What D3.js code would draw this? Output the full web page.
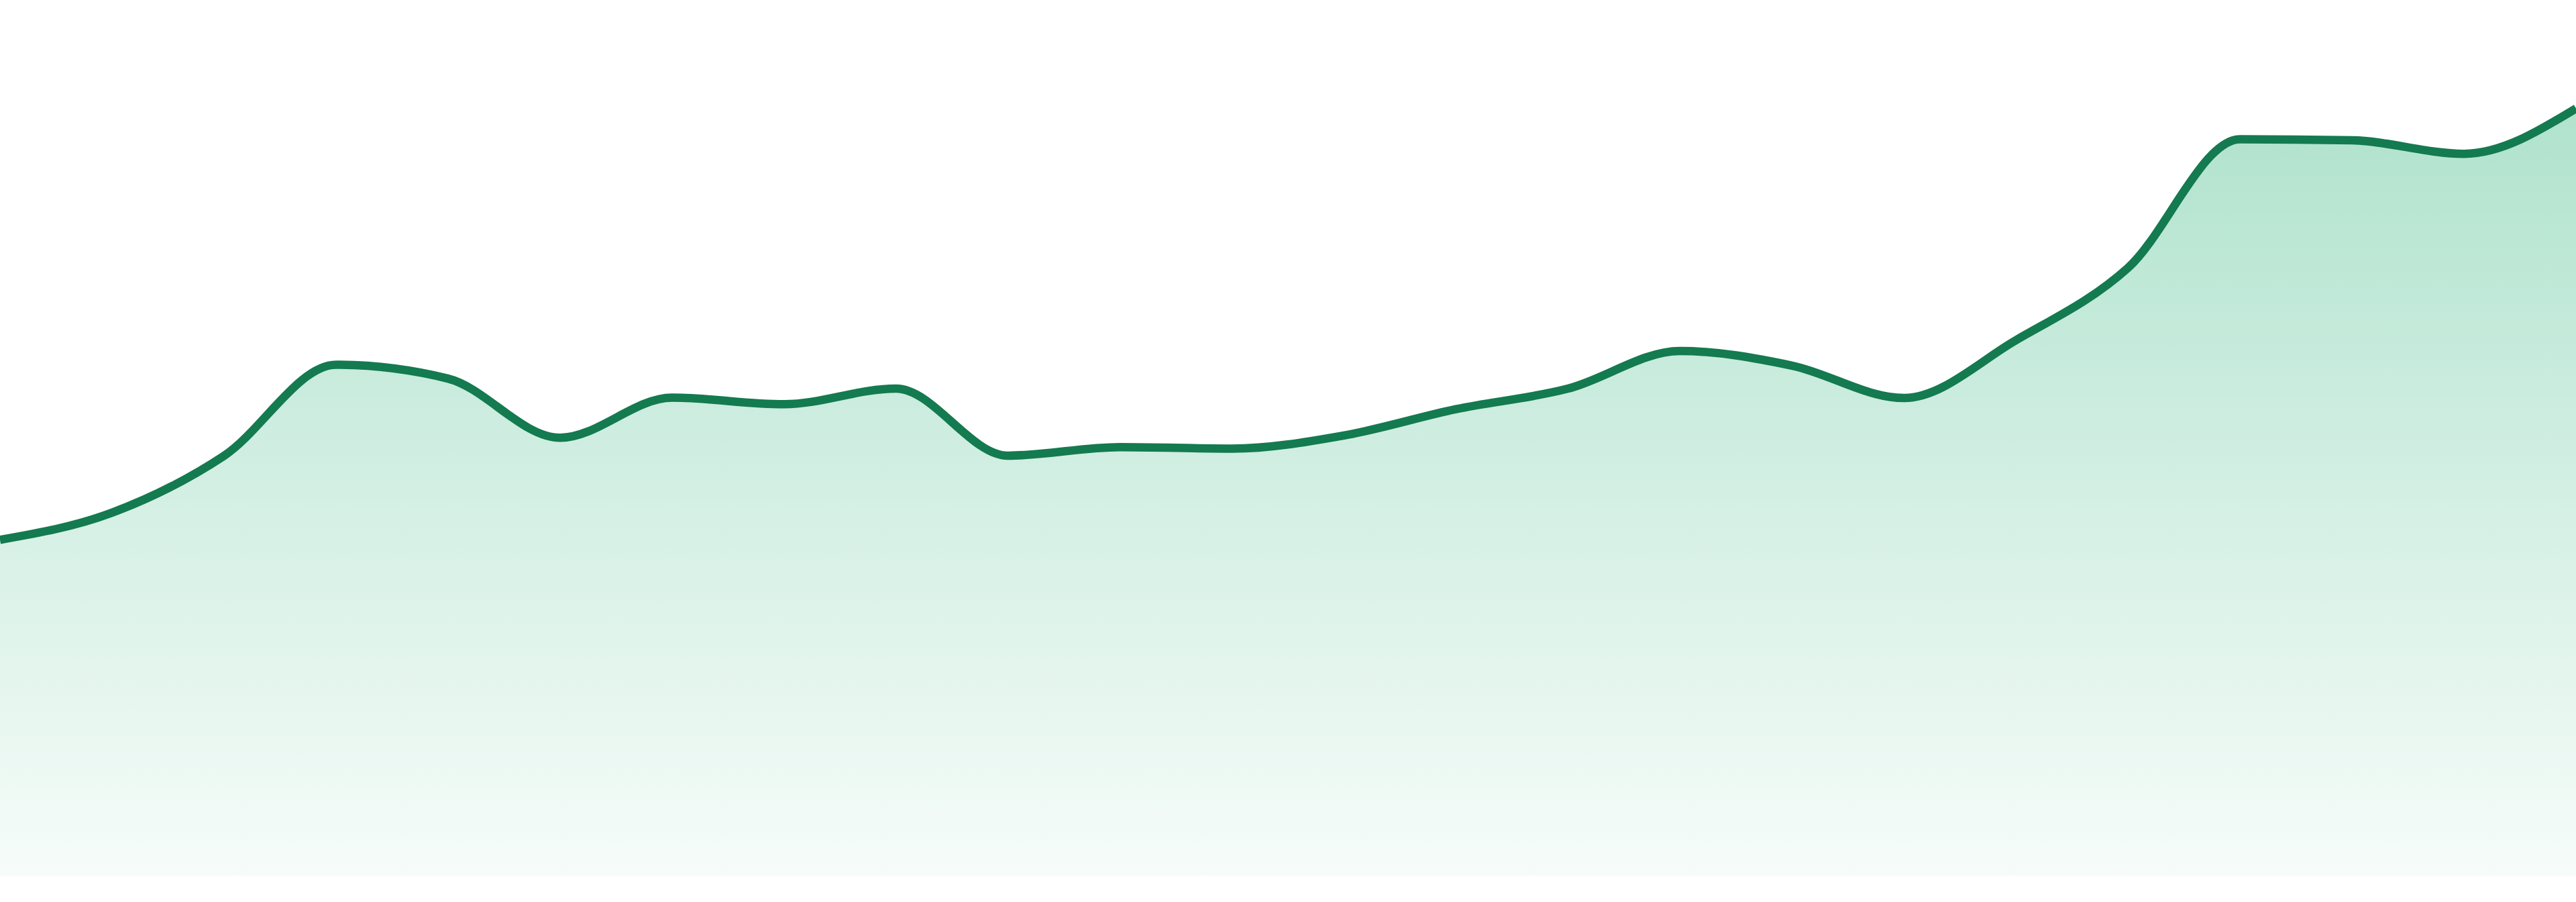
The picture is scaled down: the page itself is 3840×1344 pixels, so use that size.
<!DOCTYPE html>
<html>
<head>
<meta charset="utf-8">
<script src="https://cdn.jsdelivr.net/npm/d3@7"></script>
<style>
  html, body { margin: 0; padding: 0; background: #ffffff; }
  svg { display: block; }
</style>
</head>
<body>
<svg id="chart"></svg>
<script>
// one value per step along the x axis
var steps = d3.range(24);
var values = [20.45, 22.1, 25.56, 31.1, 30.26, 26.66, 29.1, 28.7, 29.65, 25.57, 26.09, 26.0,
              26.8, 28.4, 29.65, 31.94, 31.05, 29.08, 32.6, 37.0, 44.83, 44.76, 43.94, 46.7];

var width = 3840,
    height = 1344,
    baseline = 1305;

var svg = d3.select("#chart")
    .attr("width", width)
    .attr("height", height);

var x = d3.scaleLinear()
    .domain([0, steps.length - 1])
    .range([0, width]);

var y = d3.scaleLinear()
    .domain([0, 53.3])
    .range([baseline, 0]);

var data = steps.map(function(s, i) {
    return { step: s, value: values[i] };
});

//------------------------------------------------------------------------------
// soft green fill fading out towards the bottom
//------------------------------------------------------------------------------
var grad = svg.append("defs").append("linearGradient")
    .attr("id", "area_fill")
    .attr("gradientUnits", "userSpaceOnUse")
    .attr("x1", 0).attr("x2", 0)
    .attr("y1", y(d3.max(values)))
    .attr("y2", baseline);

grad.append("stop")
    .attr("offset", "0%")
    .attr("stop-color", "#29b279")
    .attr("stop-opacity", 0.37);

grad.append("stop")
    .attr("offset", "100%")
    .attr("stop-color", "#29b279")
    .attr("stop-opacity", 0.04);

var area = d3.area()
    .x(function(d) { return x(d.step); })
    .y0(baseline)
    .y1(function(d) { return y(d.value); })
    .curve(d3.curveMonotoneX);

var line = d3.line()
    .x(function(d) { return x(d.step); })
    .y(function(d) { return y(d.value); })
    .curve(d3.curveMonotoneX);

svg.append("path")
    .datum(data)
    .attr("d", area)
    .attr("fill", "url(#area_fill)");

svg.append("path")
    .datum(data)
    .attr("d", line)
    .attr("fill", "none")
    .attr("stroke", "#147a50")
    .attr("stroke-width", 12.5)
    .attr("stroke-linejoin", "round");
</script>
</body>
</html>
